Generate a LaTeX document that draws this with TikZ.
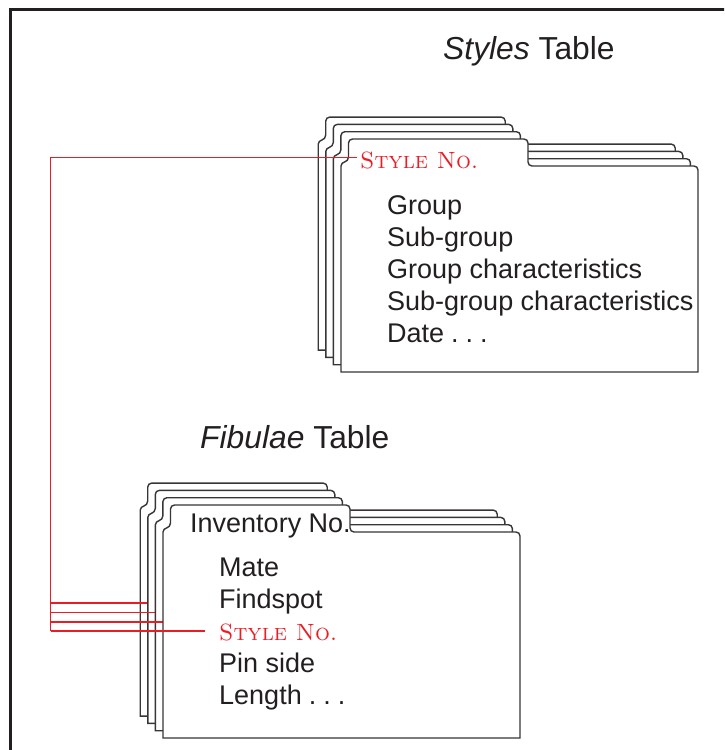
\documentclass[tikz,border=0pt]{standalone}
\usepackage{fontspec}
\setsansfont{Liberation Sans}
\newcommand\ellip{\hspace{7pt}.\hspace{7pt}.\hspace{7pt}.}
\begin{document}
\definecolor{ink}{RGB}{35,31,32}
\definecolor{linkred}{RGB}{235,28,36}
\begin{tikzpicture}[x=1pt,y=-1pt,
  folderline/.style={draw=ink!90, line width=1.4pt, fill=white},
  frameline/.style={draw=ink, line width=3pt},
  link/.style={draw=linkred, line width=1.6pt},
  title/.style={anchor=base west, inner sep=0pt, text=ink, font=\sffamily\fontsize{31.8}{38}\selectfont},
  field/.style={anchor=base west, inner sep=0pt, text=ink, font=\sffamily\fontsize{27}{32}\selectfont},
  keyfield/.style={anchor=base west, inner sep=0pt, text=linkred, font=\rmfamily\scshape\fontsize{23.5}{28}\selectfont},
  folder/.pic={
    \path[folderline] (0,206) -- (0,0)
      .. controls (0,-5) and (7.5,-3) .. (7.5,-9)
      [rounded corners=4] -- (7.5,-27) -- (187,-27) -- (187,0) -- (357,0)
      [sharp corners] -- (357,206) -- cycle;
  }]
\useasboundingbox (0,0) rectangle (724,750);

% outer frame, running off the right and bottom edges
\begin{scope}
  \clip (0,0) rectangle (724,750);
  \draw[frameline] (10.5,800) -- (10.5,9.5) -- (780,9.5);
\end{scope}

% ---- Styles table: stack of four cards ----
\node[title] (stylestitle) at (443,59) {\textit{Styles} Table};
\pic at (318.2,144.1) {folder};
\pic at (325.8,151.4) {folder};
\pic at (333.4,158.7) {folder};
\pic at (341,166) {folder};

\node[keyfield] (stylekey) at (360,168) {Style No.};
\node[field] (sgroup) at (387,214) {Group};
\node[field] (ssub) at (387,246) {Sub-group};
\node[field] (sgc) at (387,278) {Group characteristics};
\node[field] (ssgc) at (387,310) {Sub-group characteristics};
\node[field] (sdate) at (387,342) {Date\ellip};

% ---- Fibulae table: stack of four cards, each with its link ----
\node[title] (fibtitle) at (200,448) {\textit{Fibulae} Table};
\coordinate (bus0) at (50.5,157.5);
\coordinate (bus1) at (50.5,603);
\coordinate (bus2) at (50.5,612.5);
\coordinate (bus3) at (50.5,622);
\coordinate (bus4) at (50.5,631);
\coordinate (card2) at (147.8,603);
\coordinate (card3) at (155.4,612.5);
\coordinate (card4) at (163,622);
\coordinate (keyend) at (205,631);
\coordinate (topend) at (357,157.5);

\pic at (140.2,510.1) {folder};
\draw[link] (bus1) -- (card2);
\pic at (147.8,517.4) {folder};
\draw[link] (bus2) -- (card3);
\pic at (155.4,524.7) {folder};
\draw[link] (bus3) -- (card4);
\pic at (163,532) {folder};
\draw[link] (bus4) -- (keyend);

\node[field] (finv) at (190,532) {Inventory No.};
\node[field] (fmate) at (219,576) {Mate};
\node[field] (ffind) at (219,608) {Findspot};
\node[keyfield] (fkey) at (219,640) {Style No.};
\node[field] (fpin) at (219,672) {Pin side};
\node[field] (flen) at (219,704) {Length\ellip};

% shared key line joining the two tables
\draw[link] (topend) -- (bus0) -- (bus4);
\end{tikzpicture}
\end{document}
